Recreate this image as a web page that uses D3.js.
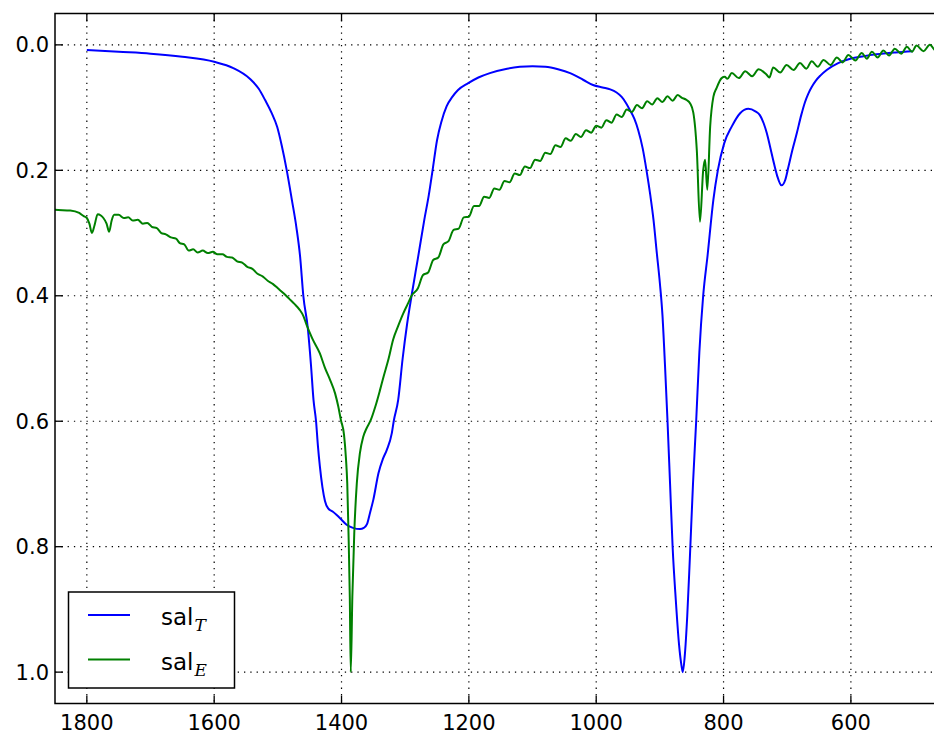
<!DOCTYPE html>
<html>
<head>
<meta charset="utf-8">
<script src="https://cdn.jsdelivr.net/npm/d3@7/dist/d3.min.js"></script>
<style>
body { margin: 0; background: white; }
svg text { font-family: "DejaVu Sans", sans-serif; fill: #000; }
</style>
</head>
<body>
<div id="chart"></div>
<script>
var svgWidth = 934;
var svgHeight = 733;
var plotLeft = 55;
var plotTop = 13.5;
var plotBottom = 703.5;
var plotRight = 946.4;

var xTicks = [1800, 1600, 1400, 1200, 1000, 800, 600];
var xTickLabels = ["1800", "1600", "1400", "1200", "1000", "800", "600"];
var yTicks = [0.0, 0.2, 0.4, 0.6, 0.8, 1.0];
var yTickLabels = ["0.0", "0.2", "0.4", "0.6", "0.8", "1.0"];

// sal_T, [wavenumber, value]
var salT = [
	[1800, 0.008], [1750, 0.011], [1700, 0.014], [1650, 0.019], [1600, 0.027], [1570, 0.037],
	[1544, 0.054], [1530, 0.070], [1520, 0.088], [1510, 0.108], [1501, 0.131], [1494, 0.160],
	[1486, 0.200], [1478, 0.247], [1471, 0.290], [1465, 0.338], [1460, 0.400], [1453, 0.451],
	[1448, 0.510], [1444, 0.566], [1440, 0.600], [1437, 0.640], [1434, 0.672], [1430, 0.705],
	[1426, 0.727], [1421, 0.739], [1414, 0.744], [1408, 0.749], [1400, 0.757], [1392, 0.765],
	[1382, 0.770], [1371, 0.772], [1365, 0.770], [1360, 0.764], [1355, 0.745], [1350, 0.725],
	[1342, 0.683], [1335, 0.660], [1329, 0.646], [1321, 0.619], [1318, 0.600], [1311, 0.566],
	[1304, 0.500], [1297, 0.445], [1290, 0.400], [1280, 0.340], [1270, 0.279], [1263, 0.240],
	[1257, 0.200], [1250, 0.152], [1243, 0.122], [1235, 0.098], [1226, 0.083], [1217, 0.072],
	[1201, 0.061], [1185, 0.052], [1167, 0.045], [1140, 0.038], [1120, 0.035], [1100, 0.034],
	[1080, 0.035], [1060, 0.039], [1041, 0.045], [1020, 0.056], [1005, 0.064], [990, 0.068],
	[978, 0.071], [968, 0.076], [960, 0.083], [953, 0.093], [947, 0.104], [940, 0.118],
	[934, 0.136], [927, 0.165], [921, 0.200], [915, 0.240], [910, 0.279], [905, 0.330],
	[900, 0.380], [896, 0.430], [892, 0.510], [888, 0.600], [884, 0.700], [880, 0.800],
	[875, 0.885], [870, 0.955], [866, 0.990], [864, 1.000], [861, 0.975], [857, 0.910],
	[853, 0.820], [848, 0.700], [843, 0.600], [838, 0.490], [832, 0.400], [825, 0.335],
	[816, 0.247], [809, 0.200], [799, 0.157], [787, 0.130], [774, 0.109], [761, 0.102],
	[750, 0.106], [743, 0.112], [737, 0.125], [732, 0.141], [727, 0.162], [722, 0.184],
	[716, 0.208], [709, 0.224], [703, 0.215], [698, 0.194], [692, 0.168], [685, 0.141],
	[678, 0.112], [672, 0.091], [667, 0.078], [662, 0.068], [655, 0.057], [648, 0.049],
	[638, 0.040], [620, 0.029], [601, 0.022], [580, 0.018], [560, 0.015], [530, 0.012],
	[503, 0.010]
];

// sal_E, [wavenumber, value]
var salE = [
	[1860, 0.262], [1850, 0.263], [1826, 0.264], [1812, 0.268], [1805, 0.273], [1800, 0.276],
	[1796, 0.285], [1792, 0.300], [1788, 0.288], [1783, 0.270], [1778, 0.272], [1774, 0.276],
	[1769, 0.285], [1765, 0.298], [1761, 0.280], [1757, 0.271], [1750, 0.271], [1742, 0.276],
	[1735, 0.275], [1728, 0.280], [1720, 0.279], [1712, 0.285], [1705, 0.284], [1698, 0.290],
	[1690, 0.292], [1683, 0.300], [1676, 0.302], [1668, 0.307], [1660, 0.309], [1654, 0.316],
	[1647, 0.318], [1640, 0.328], [1633, 0.326], [1626, 0.331], [1618, 0.328], [1610, 0.332],
	[1602, 0.330], [1595, 0.334], [1587, 0.334], [1580, 0.338], [1572, 0.339], [1564, 0.345],
	[1556, 0.347], [1548, 0.354], [1540, 0.357], [1532, 0.365], [1524, 0.369], [1516, 0.376],
	[1508, 0.381], [1500, 0.388], [1491, 0.396], [1482, 0.405], [1474, 0.413], [1466, 0.422],
	[1460, 0.432], [1455, 0.446], [1446, 0.468], [1434, 0.492], [1426, 0.515], [1418, 0.534],
	[1410, 0.556], [1405, 0.577], [1401, 0.598], [1396, 0.622], [1393, 0.660], [1391, 0.699],
	[1389, 0.779], [1387, 0.880], [1385.5, 1.000], [1383, 0.880], [1380, 0.779], [1376, 0.699],
	[1371, 0.650], [1366, 0.625], [1361, 0.612], [1354, 0.598], [1347, 0.577], [1340, 0.552],
	[1334, 0.529], [1326, 0.500], [1319, 0.470], [1311, 0.448], [1303, 0.428], [1296, 0.413],
	[1290, 0.400], [1280, 0.388], [1272, 0.367], [1264, 0.363], [1256, 0.343], [1248, 0.339],
	[1240, 0.318], [1232, 0.313], [1224, 0.295], [1216, 0.293], [1208, 0.275], [1200, 0.274],
	[1192, 0.257], [1184, 0.257], [1176, 0.242], [1168, 0.244], [1160, 0.229], [1152, 0.231],
	[1144, 0.217], [1136, 0.219], [1128, 0.205], [1120, 0.2075], [1112, 0.194], [1104, 0.1965],
	[1096, 0.183], [1088, 0.185], [1080, 0.172], [1072, 0.174], [1064, 0.160], [1056, 0.163],
	[1048, 0.149], [1040, 0.153], [1032, 0.142], [1024, 0.147], [1016, 0.136], [1008, 0.140],
	[1000, 0.129], [992, 0.132], [984, 0.120], [976, 0.124], [968, 0.111], [960, 0.115],
	[952, 0.103], [944, 0.107], [936, 0.096], [928, 0.101], [920, 0.090], [912, 0.095],
	[904, 0.085], [896, 0.091], [888, 0.082], [880, 0.089], [872, 0.080], [866, 0.084],
	[858, 0.088], [852.7, 0.093], [847.5, 0.108], [842, 0.168], [837, 0.282], [832, 0.200],
	[829, 0.183], [825.5, 0.231], [821, 0.130], [816, 0.083], [811, 0.069], [803, 0.053],
	[798, 0.051], [794, 0.054], [787, 0.045], [776, 0.053], [766, 0.042], [755, 0.050],
	[745, 0.039], [733, 0.047], [728, 0.052], [722, 0.036], [711, 0.044], [701, 0.032],
	[690, 0.040], [680, 0.029], [670, 0.038], [661.5, 0.026], [652, 0.035], [643, 0.024],
	[632, 0.032], [622, 0.020], [613, 0.028], [604, 0.016], [593, 0.025], [583, 0.013],
	[575, 0.022], [567, 0.011], [558, 0.020], [549, 0.009], [540, 0.017], [531, 0.006],
	[521, 0.014], [512, 0.003], [504, 0.011], [497, 0.001], [486, 0.010], [476, 0.000],
	[466, 0.010], [458, 0.004]
];

var seriesNames = ["T", "E"];
var seriesColors = ["#0000ff", "#008000"];

var x = d3.scaleLinear().domain([1850, 450]).range([plotLeft, plotRight]);
var y = d3.scaleLinear().domain([-0.05, 1.05]).range([plotTop, plotBottom]);

var svg = d3.select("#chart")
	.append("svg")
	.attr("width", svgWidth)
	.attr("height", svgHeight)
	.style("background-color", "white");

svg.append("defs")
	.append("clipPath")
	.attr("id", "plot-clip")
	.append("rect")
	.attr("x", plotLeft)
	.attr("y", plotTop)
	.attr("width", plotRight - plotLeft)
	.attr("height", plotBottom - plotTop);

// grid
var grid = svg.append("g").attr("id", "grid");
grid.selectAll("line.vgrid")
	.data(xTicks)
	.enter()
	.append("line")
	.attr("class", "vgrid")
	.attr("x1", function(d){return x(d);})
	.attr("x2", function(d){return x(d);})
	.attr("y1", plotTop)
	.attr("y2", plotBottom)
	.attr("stroke", "#000")
	.attr("stroke-width", 1.2)
	.attr("stroke-dasharray", "1.3,5");
grid.selectAll("line.hgrid")
	.data(yTicks)
	.enter()
	.append("line")
	.attr("class", "hgrid")
	.attr("x1", plotLeft)
	.attr("x2", plotRight)
	.attr("y1", function(d){return y(d);})
	.attr("y2", function(d){return y(d);})
	.attr("stroke", "#000")
	.attr("stroke-width", 1.2)
	.attr("stroke-dasharray", "1.3,5");

var line = d3.line()
	.curve(d3.curveMonotoneX)
	.x(function(d){return x(d[0]);})
	.y(function(d){return y(d[1]);});

var lines = svg.append("g")
	.attr("id", "lines")
	.attr("clip-path", "url(#plot-clip)");

lines.selectAll("path")
	.data([salT, salE])
	.enter()
	.append("path")
	.attr("d", function(d){return line(d);})
	.attr("fill", "none")
	.attr("stroke", function(d, i){return seriesColors[i];})
	.attr("stroke-width", 2)
	.attr("stroke-linejoin", "round");

// frame and ticks
svg.append("rect")
	.attr("x", plotLeft)
	.attr("y", plotTop)
	.attr("width", plotRight - plotLeft)
	.attr("height", plotBottom - plotTop)
	.attr("fill", "none")
	.attr("stroke", "#000")
	.attr("stroke-width", 1.5);

var tickLen = 8;
var ticks = svg.append("g").attr("id", "ticks");
xTicks.forEach(function(t, i) {
	ticks.append("line")
		.attr("x1", x(t)).attr("x2", x(t))
		.attr("y1", plotBottom).attr("y2", plotBottom - tickLen)
		.attr("stroke", "#000").attr("stroke-width", 1.3);
	ticks.append("line")
		.attr("x1", x(t)).attr("x2", x(t))
		.attr("y1", plotTop).attr("y2", plotTop + tickLen)
		.attr("stroke", "#000").attr("stroke-width", 1.3);
	ticks.append("text")
		.attr("x", x(t))
		.attr("y", plotBottom + 26)
		.attr("text-anchor", "middle")
		.style("font-size", "21px")
		.text(xTickLabels[i]);
});
yTicks.forEach(function(t, i) {
	ticks.append("line")
		.attr("x1", plotLeft).attr("x2", plotLeft + tickLen)
		.attr("y1", y(t)).attr("y2", y(t))
		.attr("stroke", "#000").attr("stroke-width", 1.3);
	ticks.append("text")
		.attr("x", plotLeft - 6)
		.attr("y", y(t) + 7.5)
		.attr("text-anchor", "end")
		.style("font-size", "21px")
		.text(yTickLabels[i]);
});

// legend
var legend = svg.append("g").attr("id", "legend");
legend.append("rect")
	.attr("x", 68.5)
	.attr("y", 592)
	.attr("width", 166)
	.attr("height", 96)
	.attr("fill", "white")
	.attr("stroke", "#000")
	.attr("stroke-width", 1.5);

var legendItems = legend.selectAll("g.item")
	.data(seriesNames)
	.enter()
	.append("g")
	.attr("class", "item")
	.attr("transform", function(d, i){return "translate(0," + (615 + i * 44.5) + ")";});

legendItems.append("line")
	.attr("x1", 88).attr("x2", 130)
	.attr("y1", 0).attr("y2", 0)
	.attr("stroke", function(d, i){return seriesColors[i];})
	.attr("stroke-width", 2);

var label = legendItems.append("text")
	.attr("x", 161)
	.attr("y", 10)
	.style("font-size", "23px");
label.append("tspan").text("sal");
label.append("tspan")
	.attr("dy", 6)
	.attr("dx", 1)
	.style("font-family", "'DejaVu Serif', serif")
	.style("font-style", "italic")
	.style("font-size", "17px")
	.text(function(d){return d;});
</script>
</body>
</html>
